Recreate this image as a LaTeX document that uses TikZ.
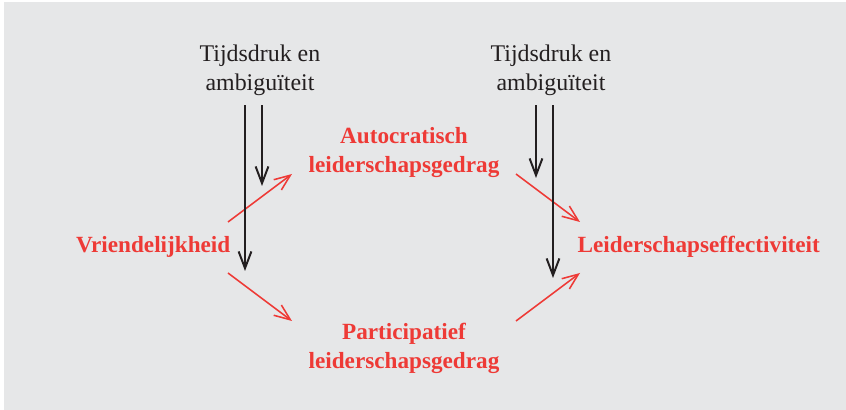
\documentclass[tikz,border=0pt]{standalone}
\usepackage{fontspec}
\setmainfont{Liberation Serif}
\usepackage{tikz}
\usetikzlibrary{arrows.meta}
\definecolor{panelgray}{HTML}{E6E7E8}
\definecolor{factred}{HTML}{EE3A36}
\definecolor{inkblack}{HTML}{231F20}

\begin{document}
\begin{tikzpicture}[every node/.style={font=\fontsize{17}{20.6}\selectfont, inner sep=1pt},
    moderator/.style={text=inkblack, align=center},
    factor/.style={text=factred, font=\fontsize{16.5}{20.6}\selectfont\bfseries, align=center},
    influence/.style={draw=factred, line width=1.1pt, -{Straight Barb[length=4mm, width=3.2mm]}},
    moderation/.style={draw=inkblack, line width=1.4pt, -{Straight Barb[length=4.2mm, width=3.2mm]}}]
        \useasboundingbox (0.0, 0.0) rectangle (21.15, 10.25);
        \fill [panelgray] (0.1, 0.0) rectangle (21.15, 10.2);
        % nodes
        \node [moderator] (tdl) at (6.5, 8.5) {Tijdsdruk en\\ambiguïteit};
        \node [moderator] (tdr) at (13.775, 8.5) {Tijdsdruk en\\ambiguïteit};
        \node [factor, anchor=east] (vri) at (5.8, 4.075) {Vriendelijkheid};
        \node [factor] (aut) at (10.1, 6.43) {Autocratisch\\leiderschapsgedrag};
        \node [factor] (par) at (10.1, 1.55) {Participatief\\leiderschapsgedrag};
        \node [factor, anchor=west] (eff) at (14.4, 4.075) {Leiderschapseffectiviteit};
        % red influence arrows
        \draw [influence] ([shift={(-0.1, 0.625)}]vri.east) -- ([shift={(-2.8, -0.53)}]aut.center);
        \draw [influence] ([shift={(-0.1, -0.65)}]vri.east) -- ([shift={(-2.8, 0.675)}]par.center);
        \draw [influence] ([shift={(2.8, -0.53)}]aut.center) -- ([shift={(0.1, 0.625)}]eff.west);
        \draw [influence] ([shift={(2.8, 0.675)}]par.center) -- ([shift={(0.1, -0.65)}]eff.west);
        % moderator arrows
        \coordinate (ll) at (6.125, 3.475);
        \coordinate (ls) at (6.55, 5.6);
        \coordinate (rs) at (13.4, 5.8);
        \coordinate (rl) at (13.825, 3.3);
        \draw [moderation, shorten <=2mm] (tdl.south -| ll) -- (ll);
        \draw [moderation, shorten <=2mm] (tdl.south -| ls) -- (ls);
        \draw [moderation, shorten <=2mm] (tdr.south -| rs) -- (rs);
        \draw [moderation, shorten <=2mm] (tdr.south -| rl) -- (rl);
      \end{tikzpicture}
\end{document}
